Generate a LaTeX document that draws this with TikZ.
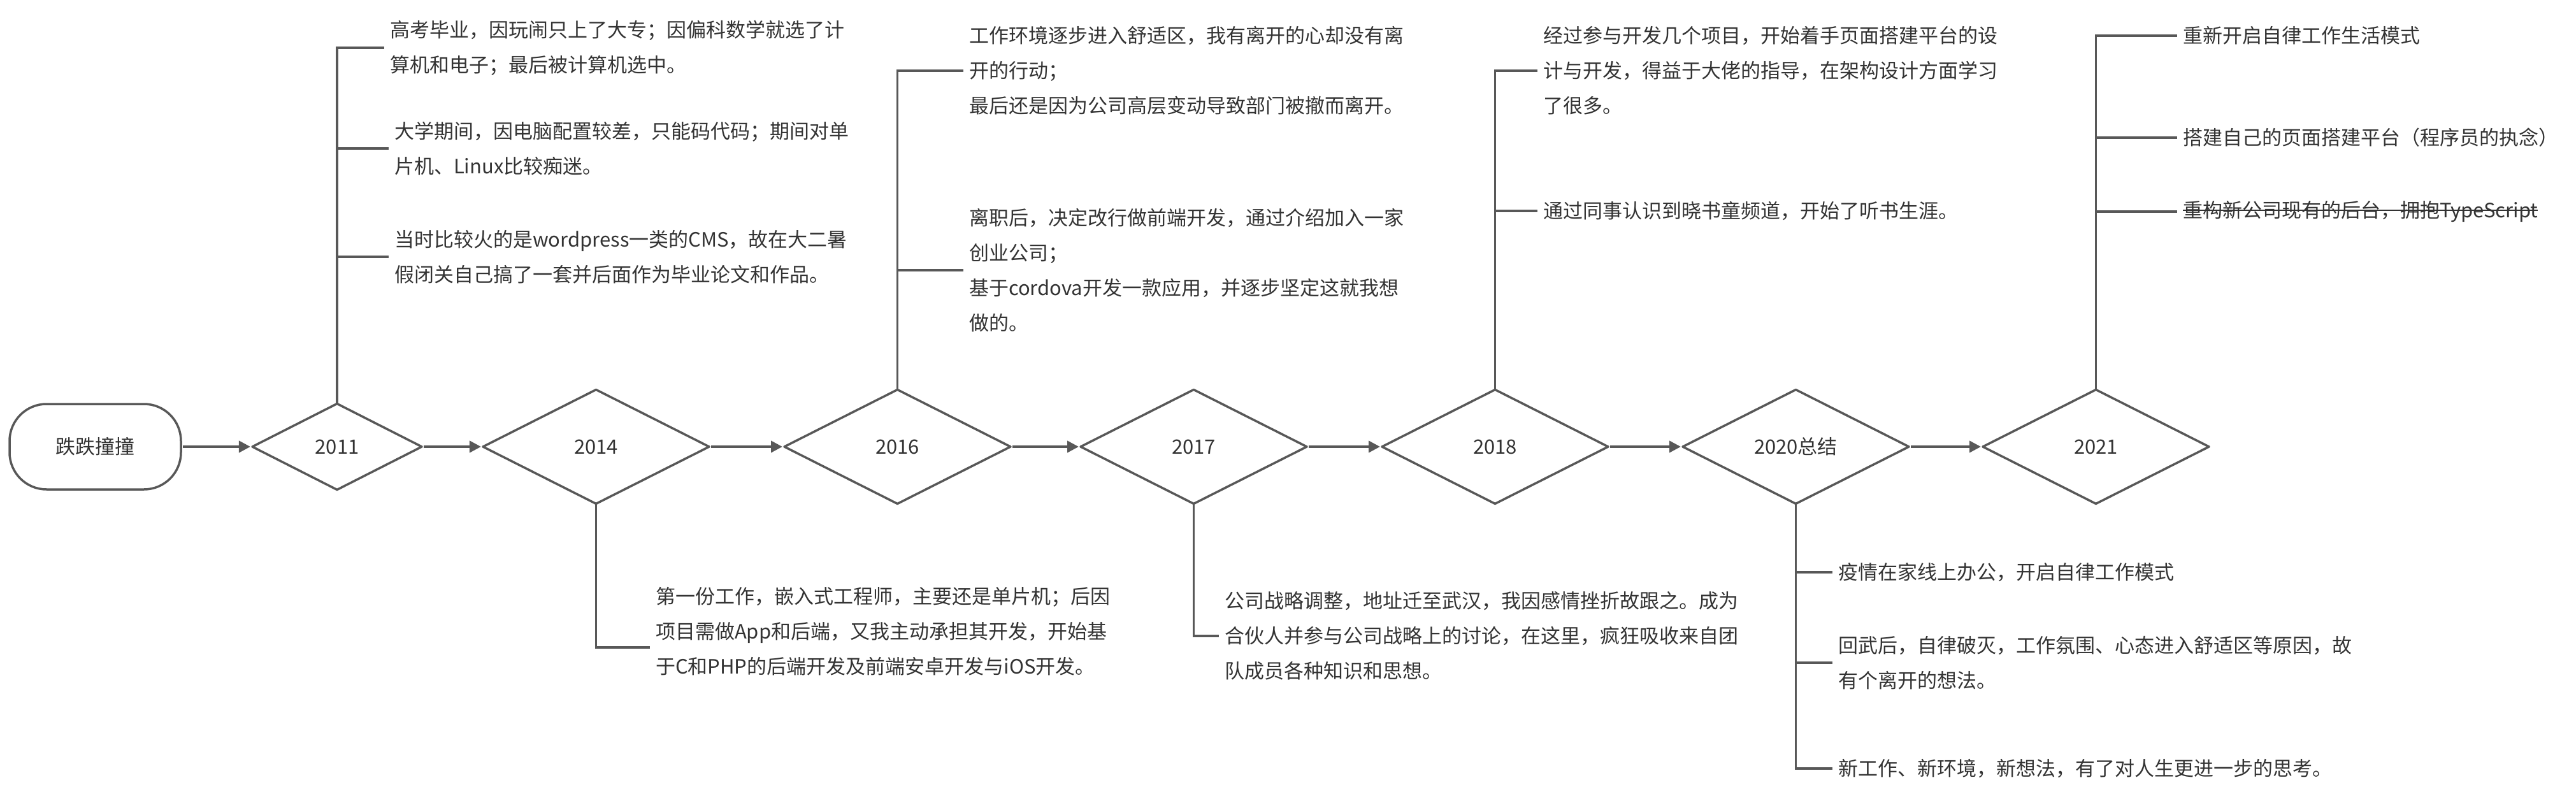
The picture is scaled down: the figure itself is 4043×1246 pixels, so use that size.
\documentclass[tikz,border=0pt]{standalone}
\usepackage{fontspec}
\setmainfont{Noto Sans CJK SC}
\newsavebox\strikebox
\newcommand\strikeout[1]{\sbox\strikebox{#1}\rlap{\rule[0.33em]{\wd\strikebox}{1.1pt}}\usebox\strikebox}
\usetikzlibrary{shapes.geometric,positioning,arrows.meta}
\definecolor{linegray}{HTML}{585858}
\definecolor{textgray}{HTML}{333333}
\tikzset{yearbox/.style={diamond,draw=linegray,line width=1.75pt,line join=round,
                         text=textgray,inner sep=0pt,outer sep=0pt,
                         minimum width=177.5pt,minimum height=89.5pt},
         notetext/.style={align=left,anchor=west,text=textgray,
                          inner xsep=4.5pt,inner ysep=0pt,outer sep=0pt},
         branchline/.style={draw=linegray,line width=1.75pt},
         flowarrow/.style={draw=linegray,line width=2pt,
                           -{Triangle[length=9pt,width=9pt]},
                           shorten <=1.5pt,shorten >=1.5pt}}

\begin{document}
\begin{tikzpicture}[x=0.5pt,y=-0.5pt,font=\fontsize{15.5pt}{27.5pt}\selectfont]
\useasboundingbox (0,0) rectangle (4043,1246);

\node[draw=linegray,line width=1.75pt,rounded corners=29pt,outer sep=0pt,text=textgray,
      minimum width=134.5pt,minimum height=67pt] (start) at (149.5,701) {跌跌撞撞};
\node[yearbox,minimum width=133pt,minimum height=67.5pt,right=56pt of start] (y2011) {2011};
\node[yearbox,right=48pt of y2011] (y2014) {2014};
\node[yearbox,right=59pt of y2014] (y2016) {2016};
\node[yearbox,right=55pt of y2016] (y2017) {2017};
\node[yearbox,right=59pt of y2017] (y2018) {2018};
\node[yearbox,right=58.5pt of y2018] (y2020) {2020总结};
\node[yearbox,right=58pt of y2020] (y2021) {2021};

\draw[flowarrow] (start) -- (y2011);
\draw[flowarrow] (y2011) -- (y2014);
\draw[flowarrow] (y2014) -- (y2016);
\draw[flowarrow] (y2016) -- (y2017);
\draw[flowarrow] (y2017) -- (y2018);
\draw[flowarrow] (y2018) -- (y2020);
\draw[flowarrow] (y2020) -- (y2021);

% 2011
\node[notetext] (n2011a) at (603,75)
    {高考毕业，因玩闹只上了大专；因偏科数学就选了计\\算机和电子；最后被计算机选中。};
\node[notetext] (n2011b) at (610,233)
    {大学期间，因电脑配置较差，只能码代码；期间对单\\片机、Linux比较痴迷。};
\node[notetext] (n2011c) at (610,403)
    {当时比较火的是wordpress一类的CMS，故在大二暑\\假闭关自己搞了一套并后面作为毕业论文和作品。};
\draw[branchline] (y2011.north) |- (n2011a.west);
\draw[branchline] (y2011.north) |- (n2011b.west);
\draw[branchline] (y2011.north) |- (n2011c.west);

% 2014
\node[notetext] (n2014) at (1020,991)
    {第一份工作，嵌入式工程师，主要还是单片机；后因\\项目需做App和后端，又我主动承担其开发，开始基\\于C和PHP的后端开发及前端安卓开发与iOS开发。};
\draw[branchline] (y2014.south) |- ([yshift=-12.5pt]n2014.west);

% 2016
\node[notetext] (n2016a) at (1512,111)
    {工作环境逐步进入舒适区，我有离开的心却没有离\\开的行动；\\最后还是因为公司高层变动导致部门被撤而离开。};
\node[notetext] (n2016b) at (1512,424)
    {离职后，决定改行做前端开发，通过介绍加入一家\\创业公司；\\基于cordova开发一款应用，并逐步坚定这就我想\\做的。};
\draw[branchline] (y2016.north) |- (n2016a.west);
\draw[branchline] (y2016.north) |- (n2016b.west);

% 2017
\node[notetext] (n2017) at (1913,998)
    {公司战略调整，地址迁至武汉，我因感情挫折故跟之。成为\\合伙人并参与公司战略上的讨论，在这里，疯狂吸收来自团\\队成员各种知识和思想。};
\draw[branchline] (y2017.south) |- (n2017.west);

% 2018
\node[notetext] (n2018a) at (2413,111)
    {经过参与开发几个项目，开始着手页面搭建平台的设\\计与开发，得益于大佬的指导，在架构设计方面学习\\了很多。};
\node[notetext] (n2018b) at (2413,331)
    {通过同事认识到晓书童频道，开始了听书生涯。};
\draw[branchline] (y2018.north) |- (n2018a.west);
\draw[branchline] (y2018.north) |- (n2018b.west);

% 2020
\node[notetext] (n2020a) at (2876,898)
    {疫情在家线上办公，开启自律工作模式};
\node[notetext] (n2020b) at (2876,1040)
    {回武后，自律破灭，工作氛围、心态进入舒适区等原因，故\\有个离开的想法。};
\node[notetext] (n2020c) at (2876,1206)
    {新工作、新环境，新想法，有了对人生更进一步的思考。};
\draw[branchline] (y2020.south) |- (n2020a.west);
\draw[branchline] (y2020.south) |- (n2020b.west);
\draw[branchline] (y2020.south) |- (n2020c.west);

% 2021
\node[notetext] (n2021a) at (3417,56)
    {重新开启自律工作生活模式};
\node[notetext] (n2021b) at (3417,216)
    {搭建自己的页面搭建平台（程序员的执念）};
\node[notetext] (n2021c) at (3417,332)
    {\strikeout{重构新公司现有的后台，拥抱TypeScript}};
\draw[branchline] (y2021.north) |- (n2021a.west);
\draw[branchline] (y2021.north) |- (n2021b.west);
\draw[branchline] (y2021.north) |- (n2021c.west);

\end{tikzpicture}
\end{document}
